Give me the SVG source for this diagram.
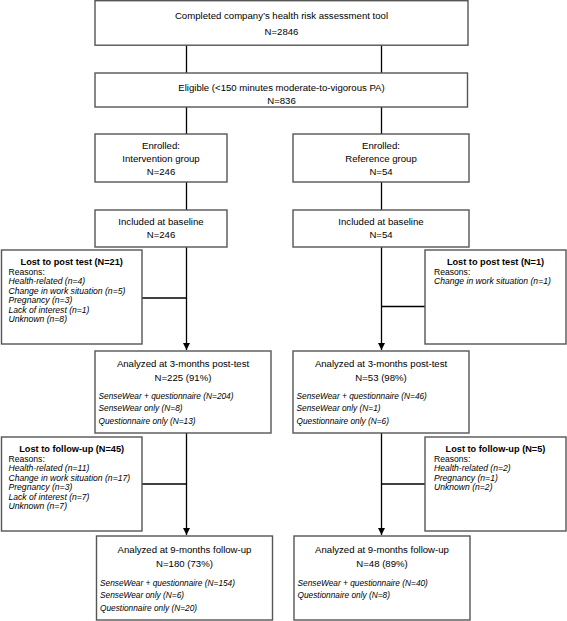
<svg xmlns="http://www.w3.org/2000/svg" width="567" height="621" viewBox="0 0 567 621">
<style>
.box{fill:#fff;stroke:#555;stroke-width:1.4}
.c{stroke:#000;stroke-width:1.3;fill:none}
text{font-family:"Liberation Sans",Arial,sans-serif;fill:#000}
.m{font-size:9.6px;text-anchor:middle}
.b{font-size:9.2px;font-weight:bold;text-anchor:middle}
.r{font-size:8.6px}
.i{font-size:8.6px;font-style:italic}
.a{font-size:8.3px;font-style:italic}
</style>
<defs>
<marker id="ah" viewBox="0 0 10 10" refX="10" refY="5" markerWidth="7" markerHeight="7" markerUnits="userSpaceOnUse" orient="auto">
<path d="M0,0 L10,5 L0,10 z" fill="#000"/>
</marker>
</defs>
<rect width="567" height="621" fill="#fff"/>
<g id="connectors">
<line class="c" x1="186.5" y1="45" x2="186.5" y2="73"/>
<line class="c" x1="381.5" y1="45" x2="381.5" y2="73"/>
<line class="c" x1="186.5" y1="107" x2="186.5" y2="134"/>
<line class="c" x1="381.5" y1="107" x2="381.5" y2="134"/>
<line class="c" x1="186.5" y1="182" x2="186.5" y2="210"/>
<line class="c" x1="381.5" y1="182" x2="381.5" y2="210"/>
<line class="c" x1="186.5" y1="247" x2="186.5" y2="350" marker-end="url(#ah)"/>
<line class="c" x1="381.5" y1="247" x2="381.5" y2="350" marker-end="url(#ah)"/>
<line class="c" x1="142" y1="298" x2="186.5" y2="298"/>
<line class="c" x1="381.5" y1="306.5" x2="425" y2="306.5"/>
<line class="c" x1="186.5" y1="433" x2="186.5" y2="535" marker-end="url(#ah)"/>
<line class="c" x1="381.5" y1="433" x2="381.5" y2="535" marker-end="url(#ah)"/>
<line class="c" x1="142" y1="484" x2="186.5" y2="484"/>
<line class="c" x1="381.5" y1="484" x2="425" y2="484"/>
</g>
<g id="n-completed">
<rect class="box" x="95" y="0.7" width="373" height="44.5"/>
<text class="m" x="281.5" y="18.5">Completed company’s health risk assessment tool</text>
<text class="m" x="281.5" y="34.5">N=2846</text>
</g>
<g id="n-eligible">
<rect class="box" x="95" y="73" width="372.5" height="34"/>
<text class="m" x="281.5" y="90.5">Eligible (&lt;150 minutes moderate-to-vigorous PA)</text>
<text class="m" x="281.5" y="103.5">N=836</text>
</g>
<g id="n-enrolled-int">
<rect class="box" x="95" y="134" width="132" height="48"/>
<text class="m" x="161" y="148.5">Enrolled:</text>
<text class="m" x="161" y="161.5">Intervention group</text>
<text class="m" x="161" y="174.5">N=246</text>
</g>
<g id="n-enrolled-ref">
<rect class="box" x="293" y="134" width="176" height="48"/>
<text class="m" x="381" y="148.5">Enrolled:</text>
<text class="m" x="381" y="161.5">Reference group</text>
<text class="m" x="381" y="174.5">N=54</text>
</g>
<g id="n-baseline-int">
<rect class="box" x="95" y="210" width="132" height="37"/>
<text class="m" x="161" y="224.5">Included at baseline</text>
<text class="m" x="161" y="237.5">N=246</text>
</g>
<g id="n-baseline-ref">
<rect class="box" x="293" y="210" width="176" height="37"/>
<text class="m" x="381" y="224.5">Included at baseline</text>
<text class="m" x="381" y="237.5">N=54</text>
</g>
<g id="n-lost-post-int">
<rect class="box" x="1.5" y="250" width="140.5" height="94"/>
<text class="b" x="71.7" y="264.5">Lost to post test (N=21)</text>
<text class="r" x="8.5" y="274.5">Reasons:</text>
<text class="i" x="8.5" y="284">Health-related (n=4)</text>
<text class="i" x="8.5" y="293.5">Change in work situation (n=5)</text>
<text class="i" x="8.5" y="303">Pregnancy (n=3)</text>
<text class="i" x="8.5" y="312.5">Lack of interest (n=1)</text>
<text class="i" x="8.5" y="322">Unknown (n=8)</text>
</g>
<g id="n-lost-post-ref">
<rect class="box" x="425" y="250" width="141" height="94"/>
<text class="b" x="495.5" y="264.5">Lost to post test (N=1)</text>
<text class="r" x="434" y="274.5">Reasons:</text>
<text class="i" x="434" y="284">Change in work situation (n=1)</text>
</g>
<g id="n-3m-int">
<rect class="box" x="95" y="351" width="176" height="82"/>
<text class="m" x="183" y="366.5">Analyzed at 3-months post-test</text>
<text class="m" x="183" y="380.5">N=225 (91%)</text>
<text class="a" x="98.5" y="398.5">SenseWear + questionnaire (N=204)</text>
<text class="a" x="98.5" y="411">SenseWear only (N=8)</text>
<text class="a" x="98.5" y="423.5">Questionnaire only (N=13)</text>
</g>
<g id="n-3m-ref">
<rect class="box" x="293" y="351" width="176" height="82"/>
<text class="m" x="381" y="366.5">Analyzed at 3-months post-test</text>
<text class="m" x="381" y="380.5">N=53 (98%)</text>
<text class="a" x="296.5" y="398.5">SenseWear + questionnaire (N=46)</text>
<text class="a" x="296.5" y="411">SenseWear only (N=1)</text>
<text class="a" x="296.5" y="423.5">Questionnaire only (N=6)</text>
</g>
<g id="n-lost-fu-int">
<rect class="box" x="1.5" y="437" width="140.5" height="94"/>
<text class="b" x="71.7" y="451.5">Lost to follow-up (N=45)</text>
<text class="r" x="8.5" y="461.5">Reasons:</text>
<text class="i" x="8.5" y="471">Health-related (n=11)</text>
<text class="i" x="8.5" y="480.5">Change in work situation (n=17)</text>
<text class="i" x="8.5" y="490">Pregnancy (n=3)</text>
<text class="i" x="8.5" y="499.5">Lack of interest (n=7)</text>
<text class="i" x="8.5" y="509">Unknown (n=7)</text>
</g>
<g id="n-lost-fu-ref">
<rect class="box" x="425" y="437" width="141" height="94"/>
<text class="b" x="495.5" y="451.5">Lost to follow-up (N=5)</text>
<text class="r" x="434" y="461.5">Reasons:</text>
<text class="i" x="434" y="471">Health-related (n=2)</text>
<text class="i" x="434" y="480.5">Pregnancy (n=1)</text>
<text class="i" x="434" y="490">Unknown (n=2)</text>
</g>
<g id="n-9m-int">
<rect class="box" x="96.5" y="536" width="176" height="84"/>
<text class="m" x="184.5" y="552.5">Analyzed at 9-months follow-up</text>
<text class="m" x="184.5" y="566.5">N=180 (73%)</text>
<text class="a" x="100" y="585.5">SenseWear + questionnaire (N=154)</text>
<text class="a" x="100" y="598">SenseWear only (N=6)</text>
<text class="a" x="100" y="610.5">Questionnaire only (N=20)</text>
</g>
<g id="n-9m-ref">
<rect class="box" x="294" y="536" width="176" height="84"/>
<text class="m" x="382" y="552.5">Analyzed at 9-months follow-up</text>
<text class="m" x="382" y="566.5">N=48 (89%)</text>
<text class="a" x="297.5" y="585.5">SenseWear + questionnaire (N=40)</text>
<text class="a" x="297.5" y="598">Questionnaire only (N=8)</text>
</g>
</svg>
